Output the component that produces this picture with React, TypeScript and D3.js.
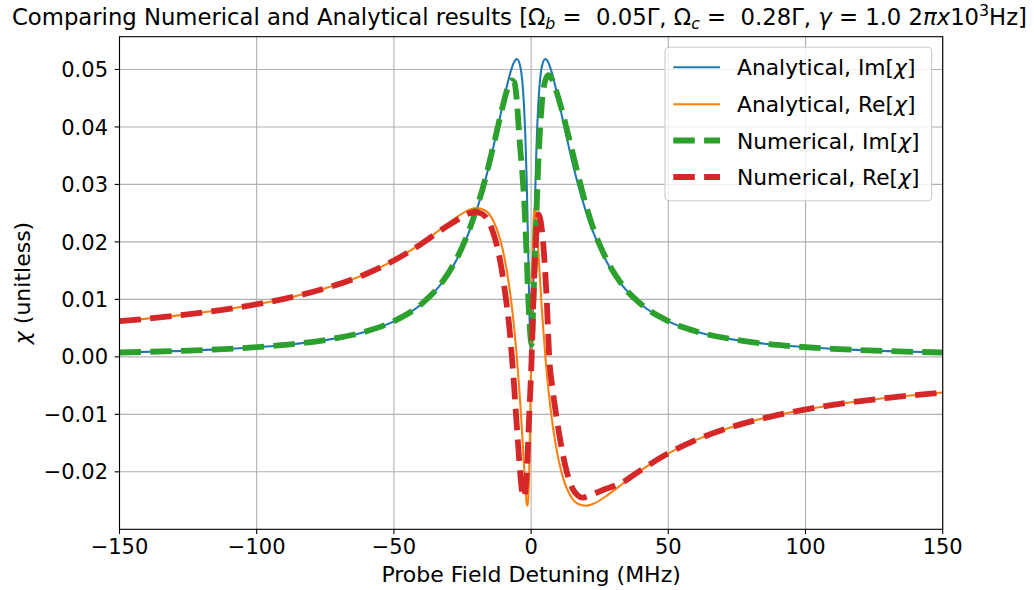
import React from 'react';
import * as d3 from 'd3';

const W = 1034;
const H = 590;

// Analytical curves
const anaX = [-150,-130,-110,-90,-75,-60,-50,-40,-33,-30,-27,-23,-20,-17,-14,-12.5,-11,-9,-7,-6,-5.2,-4,-3,-2.6,-2.2,-1.9,-1.6,-1.4,-1.2,-1.0,-0.8,-0.6,-0.4,-0.15,0,0.15,0.4,0.6,0.8,1.0,1.2,1.4,1.6,1.9,2.2,2.6,3,4,5.2,6,7,9,11,12.5,14,17,20,23,27,30,33,40,50,60,75,90,110,130,150];
const anaIm = [0.00075,0.00100,0.00139,0.00205,0.00291,0.00443,0.00618,0.00914,0.01256,0.01457,0.01704,0.02125,0.02527,0.03017,0.03598,0.03917,0.04245,0.04673,0.05031,0.05146,0.05181,0.05065,0.04673,0.04380,0.03967,0.03555,0.03040,0.02635,0.02186,0.01704,0.01211,0.00745,0.00355,0.00053,0,0.00053,0.00355,0.00745,0.01211,0.01704,0.02186,0.02635,0.03040,0.03555,0.03967,0.04380,0.04673,0.05065,0.05181,0.05146,0.05031,0.04673,0.04245,0.03917,0.03598,0.03017,0.02527,0.02125,0.01704,0.01457,0.01256,0.00914,0.00618,0.00443,0.00291,0.00205,0.00139,0.00100,0.00075];
const anaRe = [0.00620,0.00713,0.00836,0.01010,0.01193,0.01448,0.01680,0.01975,0.02220,0.02329,0.02434,0.02549,0.02590,0.02555,0.02387,0.02226,0.01994,0.01541,0.00869,0.00424,0.00000,-0.00765,-0.01541,-0.01874,-0.02195,-0.02405,-0.02552,-0.02591,-0.02559,-0.02434,-0.02193,-0.01819,-0.01309,-0.00519,0,0.00519,0.01309,0.01819,0.02193,0.02434,0.02559,0.02591,0.02552,0.02405,0.02195,0.01874,0.01541,0.00765,0.00000,-0.00424,-0.00869,-0.01541,-0.01994,-0.02226,-0.02387,-0.02555,-0.02590,-0.02549,-0.02434,-0.02329,-0.02220,-0.01975,-0.01680,-0.01448,-0.01193,-0.01010,-0.00836,-0.00713,-0.00620];

// Numerical curves
const numImX = [-150,-130,-110,-90,-75,-60,-50,-40,-33,-27,-23,-20,-17,-14.5,-12.5,-10.5,-8.5,-7.0,-6.0,-5.2,-4.6,-4.0,-3.2,-2.4,-1.7,-1.0,-0.4,0.2,0.85,1.5,2.1,2.7,3.3,3.9,5.0,6.3,7.5,9,11,13.6,16,18,20,23,27,33,40,50,60,75,90,110,130,150];
const numIm = [0.00076,0.00101,0.00140,0.00207,0.00293,0.00445,0.00621,0.00918,0.01262,0.01720,0.02150,0.02560,0.03040,0.03520,0.03920,0.04330,0.04680,0.04810,0.04760,0.04450,0.04050,0.03650,0.03200,0.02600,0.01850,0.01000,0.00450,0.00220,0.01000,0.01900,0.02700,0.03450,0.04000,0.04400,0.04780,0.04900,0.04840,0.04650,0.04330,0.03850,0.03380,0.03000,0.02640,0.02190,0.01740,0.01265,0.00920,0.00622,0.00445,0.00293,0.00207,0.00140,0.00101,0.00076];
const numReX = [-150,-130,-110,-90,-75,-60,-50,-40,-33,-27,-23,-20.4,-18,-16,-14.5,-12.8,-11,-9.15,-8,-7.0,-6.2,-5.5,-4.7,-4.0,-3.4,-2.8,-2.2,-1.5,-0.8,0.2,1.0,1.8,2.7,3.5,4.5,5.7,6.6,7.8,9.1,11,13,15,17,18.7,21,24,27,30,33,40,50,60,75,90,110,130,150];
const numRe = [0.00620,0.00713,0.00836,0.01010,0.01192,0.01446,0.01676,0.01965,0.02200,0.02380,0.02490,0.02520,0.02490,0.02400,0.02250,0.02000,0.01600,0.01000,0.00550,0.00000,-0.00500,-0.01000,-0.01550,-0.02000,-0.02300,-0.02440,-0.02360,-0.01950,-0.01150,0.00000,0.01250,0.02050,0.02480,0.02360,0.01920,0.00990,0.00000,-0.00550,-0.01000,-0.01550,-0.02000,-0.02280,-0.02410,-0.02450,-0.02420,-0.02360,-0.02300,-0.02250,-0.02190,-0.01970,-0.01678,-0.01447,-0.01192,-0.01010,-0.00836,-0.00713,-0.00620];

const xTicks = [-150, -100, -50, 0, 50, 100, 150];
const yTicks = [-0.02, -0.01, 0, 0.01, 0.02, 0.03, 0.04, 0.05];

const legendLabels = ['Analytical, Im[', 'Analytical, Re[', 'Numerical, Im[', 'Numerical, Re['];
const colors = ['#1f77b4', '#ff7f0e', '#2ca02c', '#d62728'];

const FONT = "'DejaVu Sans', sans-serif";

export default function App() {
  const left = 119.5, right = 942.7, top = 36.7, bottom = 529.3;
  const x = d3.scaleLinear().domain([-150, 150]).range([left, right]);
  const y = d3.scaleLinear().domain([-0.0300, 0.0557]).range([bottom, top]);
  const line = d3.line<[number, number]>().x(d => x(d[0])).y(d => y(d[1])).curve(d3.curveMonotoneX);

  const series = [
    { pts: anaX.map((v, i) => [v, anaIm[i]] as [number, number]), color: colors[0], dashed: false },
    { pts: anaX.map((v, i) => [v, anaRe[i]] as [number, number]), color: colors[1], dashed: false },
    { pts: numImX.map((v, i) => [v, numIm[i]] as [number, number]), color: colors[2], dashed: true },
    { pts: numReX.map((v, i) => [v, numRe[i]] as [number, number]), color: colors[3], dashed: true },
  ];

  const fmtY = (v: number) => (v < 0 ? '\u2212' : '') + Math.abs(v).toFixed(2);
  const fmtX = (v: number) => (v < 0 ? '\u2212' : '') + Math.abs(v).toString();

  const lw = 2.06, dlw = 5.8, dash = '21.5 9.3';
  const legX = 665, legY = 47.3, legW = 266.7, legH = 153.4;
  const rows = [67.3, 104.3, 140.5, 177];
  const tickFs = 21, labFs = 22, legFs = 21.8;

  return (
    <svg width={W} height={H} style={{ position: 'absolute', left: 0, top: 0, background: '#fff' }} fontFamily={FONT}>
      <rect x={0} y={0} width={W} height={H} fill="#fff" />
      <defs>
        <clipPath id="plotclip"><rect x={left} y={top} width={right - left} height={bottom - top} /></clipPath>
      </defs>
      {/* grid */}
      {xTicks.map(t => (
        <line key={'gx' + t} x1={x(t)} x2={x(t)} y1={top} y2={bottom} stroke="#b0b0b0" strokeWidth={1.1} />
      ))}
      {yTicks.map(t => (
        <line key={'gy' + t} x1={left} x2={right} y1={y(t)} y2={y(t)} stroke="#b0b0b0" strokeWidth={1.1} />
      ))}
      {/* curves */}
      <g clipPath="url(#plotclip)">
        {series.map((s, i) => (
          <path key={i} d={line(s.pts) || ''} fill="none" stroke={s.color}
            strokeWidth={s.dashed ? dlw : lw} strokeDasharray={s.dashed ? dash : undefined}
            strokeLinejoin="round" strokeLinecap={s.dashed ? 'butt' : 'square'} />
        ))}
      </g>
      {/* spines */}
      <rect x={left} y={top} width={right - left} height={bottom - top} fill="none" stroke="#000" strokeWidth={1.1} />
      {/* ticks */}
      {xTicks.map(t => (
        <g key={'tx' + t}>
          <line x1={x(t)} x2={x(t)} y1={bottom} y2={bottom + 4.8} stroke="#000" strokeWidth={1.1} />
          <text x={x(t)} y={554} textAnchor="middle" fontSize={tickFs} fill="#000">{fmtX(t)}</text>
        </g>
      ))}
      {yTicks.map(t => (
        <g key={'ty' + t}>
          <line x1={left - 4.8} x2={left} y1={y(t)} y2={y(t)} stroke="#000" strokeWidth={1.1} />
          <text x={108} y={y(t) + 7.6} textAnchor="end" fontSize={tickFs} fill="#000">{fmtY(t)}</text>
        </g>
      ))}
      {/* axis labels */}
      <text x={(left + right) / 2} y={581.7} textAnchor="middle" fontSize={labFs} fill="#000">Probe Field Detuning (MHz)</text>
      <text transform={`translate(30, ${(top + bottom) / 2}) rotate(-90)`} textAnchor="middle" fontSize={labFs} fill="#000">
        <tspan fontStyle="italic">χ</tspan> (unitless)
      </text>
      {/* title */}
      <text x={12} y={24.5} fontSize={23} fill="#000" style={{ whiteSpace: 'pre' }} textLength={1015} lengthAdjust="spacingAndGlyphs">
        Comparing Numerical and Analytical results [Ω<tspan fontStyle="italic" fontSize={16} dy={4}>b</tspan><tspan dy={-4}>{' =  0.05Γ, Ω'}</tspan><tspan fontStyle="italic" fontSize={16} dy={4}>c</tspan><tspan dy={-4}>{' =  0.28Γ, '}</tspan><tspan fontStyle="italic">γ</tspan>{' = 1.0 2'}<tspan fontStyle="italic">πx</tspan>10<tspan fontSize={16} dy={-9}>3</tspan><tspan dy={9}>Hz]</tspan>
      </text>
      {/* legend */}
      <rect x={legX} y={legY} width={legW} height={legH} rx={4} ry={4} fill="#fff" fillOpacity={0.8} stroke="#cccccc" strokeWidth={1.1} />
      {legendLabels.map((lab, i) => (
        <g key={'lg' + i}>
          <line x1={673.3} x2={720} y1={rows[i]} y2={rows[i]} stroke={colors[i]}
            strokeWidth={i < 2 ? lw : dlw} strokeDasharray={i < 2 ? undefined : dash} />
          <text x={737} y={rows[i] + 8} fontSize={legFs} fill="#000">
            {lab}<tspan fontStyle="italic">χ</tspan>]
          </text>
        </g>
      ))}
    </svg>
  );
}
